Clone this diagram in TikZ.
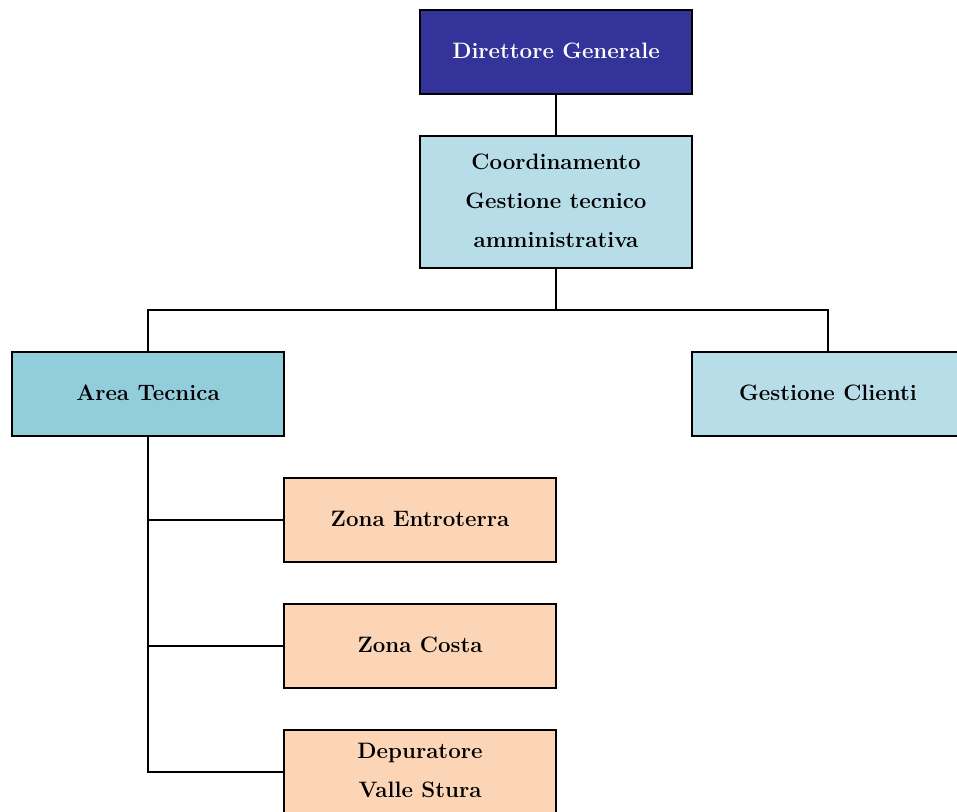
\documentclass[tikz,border=0pt]{standalone}
\definecolor{navybox}{HTML}{333399}
\definecolor{lightbox}{HTML}{B7DDE8}
\definecolor{midbox}{HTML}{92CDDC}
\definecolor{peachbox}{HTML}{FBD5B5}
\tikzset{
  orgbox/.style={draw=black, line width=1.6pt},
  orgtext/.style={font=\fontsize{22.3}{39}\selectfont\bfseries, align=center, inner sep=0pt},
  conn/.style={draw=black, line width=1.6pt}
}
\begin{document}
\begin{tikzpicture}[x=1pt,y=-1pt]
\clip (0,0) rectangle (957,811);
\fill[white] (0,0) rectangle (957,811);
% boxes
\draw[orgbox, fill=navybox] (420,10) rectangle (692,94);
\node[orgtext, text=white] (dg) at (556,51) {Direttore Generale};
\coordinate (dgb) at (556,94);
\draw[orgbox, fill=lightbox] (420,136) rectangle (692,268);
\node[orgtext] (coord) at (556,201) {Coordinamento\\Gestione tecnico\\amministrativa};
\coordinate (coordt) at (556,136);
\coordinate (coordb) at (556,268);
\draw[orgbox, fill=midbox] (12,352) rectangle (284,436);
\node[orgtext] (at) at (148,393) {Area Tecnica};
\coordinate (att) at (148,352);
\coordinate (atb) at (148,436);
\draw[orgbox, fill=lightbox] (692,352) rectangle (970,436);
\node[orgtext] (gc) at (828,393) {Gestione Clienti};
\coordinate (gct) at (828,352);
\draw[orgbox, fill=peachbox] (284,478) rectangle (556,562);
\node[orgtext] (ze) at (420,519) {Zona Entroterra};
\coordinate (zel) at (284,520);
\draw[orgbox, fill=peachbox] (284,604) rectangle (556,688);
\node[orgtext] (zc) at (420,645) {Zona Costa};
\coordinate (zcl) at (284,646);
\draw[orgbox, fill=peachbox] (284,730) rectangle (556,830);
\node[orgtext] (dvs) at (420,770) {Depuratore\\Valle Stura};
\coordinate (dvsl) at (284,772);
% connectors
\draw[conn] (dgb) -- (coordt);
\draw[conn] (coordb) -- (556,310) -| (att);
\draw[conn] (556,310) -| (gct);
\draw[conn] (atb) |- (zel);
\draw[conn] (atb) |- (zcl);
\draw[conn] (atb) |- (dvsl);
\end{tikzpicture}
\end{document}
